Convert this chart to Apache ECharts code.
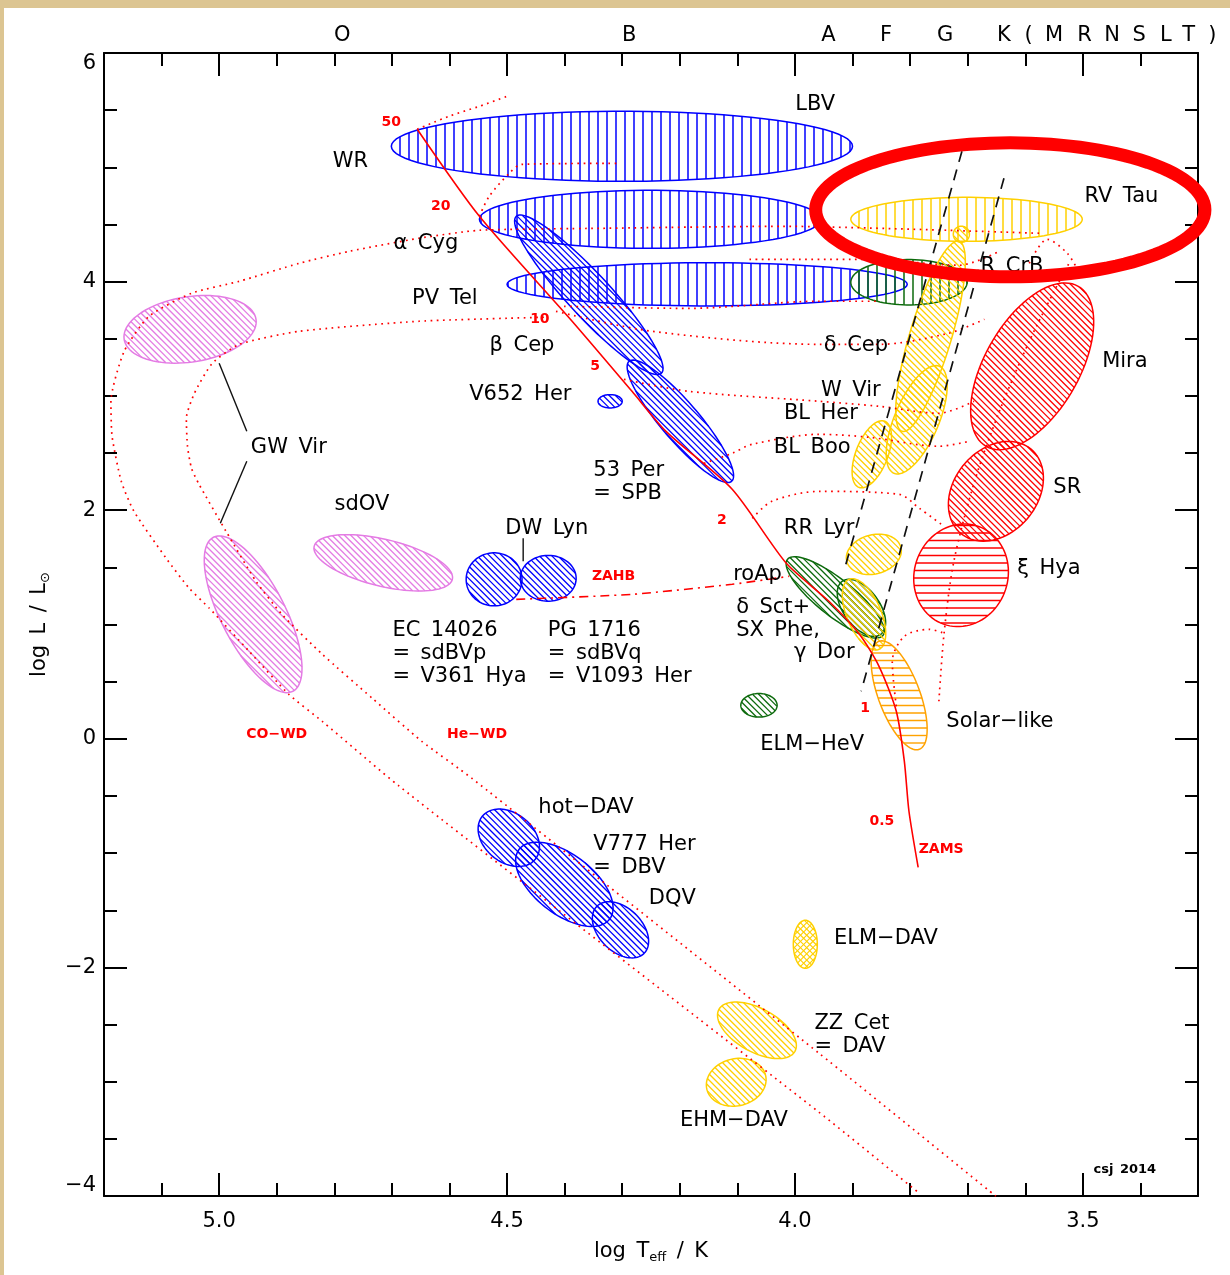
<!DOCTYPE html>
<html>
<head>
<meta charset="utf-8">
<script src="https://cdn.jsdelivr.net/npm/echarts@6/dist/echarts.min.js"></script>
<style>
html, body { margin: 0; padding: 0; background: #dcc592; }
#chart { position: absolute; left: 4px; top: 8px; width: 1226px; height: 1267px; background: #ffffff; }
</style>
</head>
<body>
<div id="chart"></div>
<script>
// Pulsating stars in the Hertzsprung-Russell diagram (log Teff vs log L/Lsun)

// ---- axis ticks ----
const xMajorTicks = [3.5, 4.0, 4.5, 5.0];
const xMinorTicks = [3.4, 3.6, 3.7, 3.8, 3.9, 4.1, 4.2, 4.3, 4.4, 4.6, 4.7, 4.8, 4.9, 5.1];
const spectralTypes = [
  ['O', 4.786], ['B', 4.288], ['A', 3.942], ['F', 3.842], ['G', 3.739], ['K', 3.637],
  ['(', 3.594], ['M', 3.550], ['R', 3.497], ['N', 3.449], ['S', 3.402], ['L', 3.356], ['T', 3.316], [')', 3.275]
];

// ---- instability regions: major axis from -> to (logTeff, logL) and minor/major ratio ----
const regionNames = ['LBV', 'α Cyg', 'PV Tel', 'β Cep', 'SPB', 'V652 Her', 'sdBVp', 'sdBVq',
  'GW Vir (PNNV)', 'GW Vir (DOV)', 'sdOV', 'hot-DAV', 'DBV', 'DQV', 'ZZ Cet', 'EHM-DAV', 'ELM-DAV',
  'ELM-HeV', 'δ Sct', 'γ Dor', 'hybrid', 'RV Tau', 'δ Cep', 'W Vir', 'BL Her', 'RR Lyr', 'HADS',
  'Solar-like', 'Mira', 'SR', 'ξ Hya', 'Ceph'];
const regionFrom = [[4.701, 5.184], [4.548, 4.545], [4.500, 3.976], [4.484, 4.571], [4.288, 3.303], [4.342, 2.953],
  [4.571, 1.395], [4.477, 1.404], [5.165, 3.495], [5.010, 1.763], [4.835, 1.684], [4.543, -0.678], [4.479, -0.967],
  [4.344, -1.465], [4.132, -2.367], [4.153, -3.066], [3.982, -1.588], [4.094, 0.293], [4.013, 1.570], [3.918, 1.378],
  [3.903, 3.994], [3.903, 4.545], [3.715, 4.353], [3.749, 3.259], [3.844, 2.778], [3.910, 1.553], [3.906, 1.395],
  [3.854, 0.853], [3.668, 2.559], [3.712, 1.797], [3.742, 1.003], [3.725, 4.414]];
const regionTo = [[3.900, 5.184], [3.955, 4.545], [3.805, 3.976], [4.232, 3.198], [4.110, 2.253], [4.300, 2.953],
  [4.474, 1.395], [4.380, 1.404], [4.936, 3.670], [4.872, 0.416], [4.595, 1.395], [4.451, -1.054], [4.322, -1.579],
  [4.262, -1.877], [4.000, -2.734], [4.051, -2.944], [3.982, -2.008], [4.031, 0.293], [3.847, 0.905], [3.851, 0.914],
  [3.701, 3.994], [3.501, 4.545], [3.814, 2.690], [3.828, 2.323], [3.889, 2.200], [3.816, 1.675], [3.854, 0.783],
  [3.784, -0.092], [3.508, 3.959], [3.590, 2.534], [3.681, 1.858], [3.697, 4.414]];
const regionRatio = [0.152, 0.17, 0.108, 0.2, 0.24, 0.55, 0.95, 0.82, 0.49, 0.37, 0.33, 0.72, 0.52, 0.65, 0.5, 0.78,
  0.5, 0.65, 0.3, 0.55, 0.39, 0.19, 0.21, 0.38, 0.45, 0.7, 0.45, 0.36, 0.51, 0.76, 0.9, 1.0];

// ---- zero-age main sequence and evolutionary tracks ----
const zams = [[4.656, 5.333], [4.548, 4.571], [4.387, 3.653], [4.283, 3.040], [4.224, 2.690], [4.109, 2.183],
  [4.015, 1.535], [3.941, 1.203], [3.888, 0.914], [3.854, 0.634], [3.824, 0.241], [3.810, -0.197], [3.802, -0.634], [3.786, -1.124]];
const zahb = [[4.484, 1.220], [4.283, 1.264], [4.109, 1.352], [4.010, 1.422]];
const coWdTrack = [[3.576, 4.423], [4.022, 4.484], [4.340, 4.466], [4.548, 4.449], [4.653, 4.379], [4.774, 4.265],
  [4.861, 4.160], [4.965, 4.003], [5.048, 3.898], [5.122, 3.696], [5.165, 3.390], [5.188, 2.953], [5.186, 2.647],
  [5.170, 2.253], [5.148, 1.990], [5.092, 1.579], [5.052, 1.317], [5.017, 1.142], [4.948, 0.766], [4.879, 0.389],
  [4.821, 0.153], [4.687, -0.416], [3.958, -3.268], [3.784, -3.976]];
const heWdTrack = [[4.436, 3.688], [4.653, 3.653], [4.861, 3.565], [4.965, 3.451], [5.012, 3.285], [5.043, 3.023],
  [5.057, 2.804], [5.055, 2.559], [5.048, 2.367], [5.035, 2.227], [4.988, 1.815], [4.936, 1.378], [4.891, 1.089],
  [4.821, 0.740], [4.734, 0.354], [4.648, -0.022], [4.561, -0.346], [3.958, -2.752], [3.651, -4.002]];
const track50 = [[4.656, 5.333], [4.601, 5.446], [4.548, 5.534], [4.500, 5.621]];
const track20 = [[4.548, 4.571], [4.531, 4.746], [4.496, 4.948], [4.474, 5.026], [4.310, 5.035]];
const track15 = [[4.079, 4.195], [3.871, 4.195], [3.715, 4.143], [3.645, 4.265]];
const track12 = [[4.401, 3.784], [4.184, 3.766], [3.958, 3.828], [3.854, 3.828]];
const track10 = [[4.415, 3.740], [4.248, 3.565], [3.958, 3.451], [3.854, 3.451], [3.733, 3.548], [3.671, 3.670]];
const track5 = [[4.297, 3.145], [4.184, 3.040], [3.958, 2.953], [3.854, 2.909], [3.750, 2.848], [3.689, 2.953]];
const track3 = [[4.158, 2.410], [4.109, 2.498], [4.074, 2.577], [3.958, 2.664], [3.871, 2.638], [3.750, 2.559], [3.697, 2.603]];
const track2 = [[4.074, 1.929], [4.040, 2.078], [3.958, 2.165], [3.819, 2.139], [3.784, 2.017], [3.741, 1.859]];
const track1 = [[3.824, 0.284], [3.831, 0.678], [3.810, 0.897], [3.767, 0.958], [3.741, 0.923]];
const giantBranch = [[3.750, 0.328], [3.741, 0.923], [3.724, 1.553], [3.688, 2.253], [3.645, 2.865], [3.593, 3.478], [3.550, 3.915], [3.524, 4.160]];
const rcrbLoop = [[3.593, 4.160], [3.562, 4.370], [3.527, 4.248], [3.506, 4.073]];

// ---- classical instability strip edges ----
const stripBlueEdge = [[3.710, 5.140], [3.915, 1.465]];
const stripRedEdge = [[3.637, 4.904], [3.885, 0.416]];

// ---- label leader lines ----
const leaderLines = [
  [[5.000, 3.285], [4.952, 2.690]],
  [[4.952, 2.428], [4.998, 1.885]],
  [[4.472, 1.754], [4.472, 1.553]]
];

// ---- class labels (centre) ----
const classLabels = [
  [3.965, 5.551, 'LBV'], [4.772, 5.052, 'WR'], [3.433, 4.746, 'RV Tau'], [4.641, 4.335, 'α Cyg'],
  [3.623, 4.134, 'R CrB'], [4.608, 3.854, 'PV Tel'], [4.474, 3.442, 'β Cep'], [3.894, 3.442, 'δ Cep'],
  [3.427, 3.302, 'Mira'], [4.477, 3.014, 'V652 Her'], [3.903, 3.049, 'W Vir'], [3.955, 2.848, 'BL Her'],
  [3.970, 2.550, 'BL Boo'], [4.879, 2.550, 'GW Vir'], [3.527, 2.200, 'SR'], [4.752, 2.052, 'sdOV'],
  [4.431, 1.842, 'DW Lyn'], [3.958, 1.842, 'RR Lyr'], [3.559, 1.492, 'ξ Hya'], [4.065, 1.439, 'roAp'],
  [3.949, 0.757, 'γ Dor'], [3.644, 0.153, 'Solar−like'], [3.970, -0.048, 'ELM−HeV'], [4.363, -0.599, 'hot−DAV'],
  [4.213, -1.396, 'DQV'], [3.842, -1.745, 'ELM−DAV'], [4.106, -3.338, 'EHM−DAV']
];
// ---- multi-line class labels (left edge) ----
const blockLabels = [
  [4.700, 0.748, 'EC 14026\n= sdBVp\n= V361 Hya'],
  [4.430, 0.748, 'PG 1716\n= sdBVq\n= V1093 Her'],
  [4.351, 2.248, '53 Per\n= SPB'],
  [4.351, -1.024, 'V777 Her\n= DBV'],
  [3.967, -2.590, 'ZZ Cet\n= DAV'],
  [4.103, 1.050, 'δ Sct+\nSX Phe,']
];
// ---- stellar masses on the ZAMS and track names ----
const redLabels = [
  [4.701, 5.394, '50'], [4.615, 4.659, '20'], [4.443, 3.670, '10'], [4.347, 3.259, '5'], [4.127, 1.911, '2'],
  [3.878, 0.267, '1'], [3.849, -0.722, '0.5'], [3.746, -0.967, 'ZAMS'], [4.315, 1.422, 'ZAHB'],
  [4.900, 0.039, 'CO−WD'], [4.552, 0.039, 'He−WD']
];
const creditLabel = [[3.427, -3.766, 'csj 2014']];

// ---- highlight ring around RV Tau: centre and half-spans ----
const ringCenter = [3.626, 4.628];
const ringHalfSpan = [0.338, 0.586];

// ================= drawing =================
const FONT = "'DejaVu Sans', 'Liberation Sans', sans-serif";
const INK = '#000000';
const PALETTE = { blue: '#0000ff', pink: '#e47be4', yellow: '#ffd000', orange: '#ffa200', green: '#0c6a0c', red: '#ff0000' };
const regionLook = {
  'LBV': ['blue', 'v'], 'α Cyg': ['blue', 'v'], 'PV Tel': ['blue', 'v'], 'β Cep': ['blue', 'd'], 'SPB': ['blue', 'd'],
  'V652 Her': ['blue', 'd'], 'sdBVp': ['blue', 'd'], 'sdBVq': ['blue', 'd'], 'GW Vir (PNNV)': ['pink', 'd'],
  'GW Vir (DOV)': ['pink', 'd'], 'sdOV': ['pink', 'd'], 'hot-DAV': ['blue', 'd'], 'DBV': ['blue', 'd'], 'DQV': ['blue', 'd'],
  'ZZ Cet': ['yellow', 'd'], 'EHM-DAV': ['yellow', 'd'], 'ELM-DAV': ['yellow', 'x'], 'ELM-HeV': ['green', 'd'],
  'δ Sct': ['green', 'd'], 'γ Dor': ['green', 'd'], 'hybrid': ['green', 'v'], 'RV Tau': ['yellow', 'v'],
  'δ Cep': ['yellow', 'd'], 'W Vir': ['yellow', 'd'], 'BL Her': ['yellow', 'd'], 'RR Lyr': ['yellow', 'd'],
  'HADS': ['yellow', 'd'], 'Solar-like': ['orange', 'h'], 'Mira': ['red', 'd'], 'SR': ['red', 'd'],
  'ξ Hya': ['red', 'h'], 'Ceph': ['yellow', 'd']
};
const HATCH = {
  v: [{ angle: 90, gap: 9, width: 1.5 }],
  h: [{ angle: 0, gap: 7.5, width: 1.4 }],
  d: [{ angle: 45, gap: 4.4, width: 1.3 }],
  x: [{ angle: 45, gap: 4.4, width: 1.1 }, { angle: -45, gap: 4.4, width: 1.1 }]
};

// hatch line segments clipped to a rotated ellipse (pixel space)
function hatchSegments(cx, cy, a, b, th, angleDeg, gap) {
  const phi = angleDeg * Math.PI / 180;
  const d = [Math.cos(phi), Math.sin(phi)];
  const n = [-d[1], d[0]];
  const u = [Math.cos(th), Math.sin(th)];
  const v = [-Math.sin(th), Math.cos(th)];
  const dl = [d[0] * u[0] + d[1] * u[1], d[0] * v[0] + d[1] * v[1]];
  const nl = [n[0] * u[0] + n[1] * u[1], n[0] * v[0] + n[1] * v[1]];
  const h = Math.sqrt((a * nl[0]) ** 2 + (b * nl[1]) ** 2);
  const base = n[0] * cx + n[1] * cy;
  const segs = [];
  const A = dl[0] * dl[0] / (a * a) + dl[1] * dl[1] / (b * b);
  for (let k = Math.ceil((base - h) / gap); k <= Math.floor((base + h) / gap); k++) {
    const o = k * gap - base;
    const q0 = [o * nl[0], o * nl[1]];
    const B = 2 * (q0[0] * dl[0] / (a * a) + q0[1] * dl[1] / (b * b));
    const C = q0[0] * q0[0] / (a * a) + q0[1] * q0[1] / (b * b) - 1;
    const disc = B * B - 4 * A * C;
    if (disc <= 0) continue;
    const sq = Math.sqrt(disc);
    const t1 = (-B - sq) / (2 * A), t2 = (-B + sq) / (2 * A);
    const px = cx + o * n[0], py = cy + o * n[1];
    segs.push([px + t1 * d[0], py + t1 * d[1], px + t2 * d[0], py + t2 * d[1]]);
  }
  return segs;
}

function renderRegion(params, api) {
  const i = api.value(5);
  const p1 = api.coord([api.value(0), api.value(1)]);
  const p2 = api.coord([api.value(2), api.value(3)]);
  const cx = (p1[0] + p2[0]) / 2, cy = (p1[1] + p2[1]) / 2;
  const dx = p2[0] - p1[0], dy = p2[1] - p1[1];
  const a = Math.max(Math.hypot(dx, dy) / 2, 1);
  const b = a * api.value(4);
  const th = Math.atan2(dy, dx);
  const look = regionLook[regionNames[i]];
  const color = PALETTE[look[0]];
  const children = [];
  HATCH[look[1]].forEach(function (hs) {
    hatchSegments(cx, cy, a, b, th, hs.angle, hs.gap).forEach(function (s) {
      children.push({ type: 'line', shape: { x1: s[0], y1: s[1], x2: s[2], y2: s[3] }, style: { stroke: color, lineWidth: hs.width } });
    });
  });
  const pts = [];
  for (let k = 0; k < 90; k++) {
    const t = k / 90 * 2 * Math.PI;
    pts.push([cx + a * Math.cos(t) * Math.cos(th) - b * Math.sin(t) * Math.sin(th),
              cy + a * Math.cos(t) * Math.sin(th) + b * Math.sin(t) * Math.cos(th)]);
  }
  children.push({ type: 'polygon', shape: { points: pts }, style: { fill: 'none', stroke: color, lineWidth: 1.5 } });
  return { type: 'group', children: children };
}

function renderRing(params, api) {
  const c = api.coord([api.value(0), api.value(1)]);
  const s = api.size([api.value(2), api.value(3)]);
  const pts = [];
  for (let k = 0; k < 120; k++) {
    const t = k / 120 * 2 * Math.PI;
    pts.push([c[0] + s[0] * Math.cos(t), c[1] + s[1] * Math.sin(t)]);
  }
  return { type: 'polygon', shape: { points: pts }, style: { fill: 'none', stroke: '#ff0000', lineWidth: 13 } };
}

const wide = s => s.replace(/ /g, '\u2002');
const toItems = arr => arr.map(l => ({ value: [l[0], l[1]], name: l[2] }));

function textSeries(items, label) {
  return {
    type: 'scatter', data: items, symbolSize: 1, itemStyle: { color: 'rgba(0,0,0,0)', opacity: 1 },
    silent: true, clip: false, z: 6, animation: false,
    label: Object.assign({ show: true, position: 'inside', formatter: p => wide(p.name), color: INK, fontSize: 21, fontFamily: FONT }, label)
  };
}

function trackSeries(data, style, smooth) {
  return {
    type: 'line', data: data, showSymbol: false, symbol: 'none', silent: true, clip: true, z: 3,
    smooth: smooth === undefined ? 0.3 : smooth, animation: false,
    lineStyle: Object.assign({ color: '#ff0000', width: 1.7, type: [1.7, 4.5] }, style)
  };
}

function xAxisOf(pos, ticks, len, extra) {
  return Object.assign({
    type: 'value', position: pos, min: 3.3, max: 5.2, inverse: true,
    splitLine: { show: false }, axisLine: { show: false, onZero: false },
    axisLabel: { show: false },
    axisTick: { show: true, inside: true, length: len, customValues: ticks, lineStyle: { color: '#000', width: 2 } }
  }, extra || {});
}

function yAxisOf(pos, extra) {
  return Object.assign({
    type: 'value', position: pos, min: -4, max: 6, interval: 2,
    splitLine: { show: false },
    axisLine: { show: true, onZero: false, lineStyle: { color: '#000', width: 2 } },
    axisTick: { show: true, inside: true, length: 23, lineStyle: { color: '#000', width: 2 } },
    minorTick: { show: true, splitNumber: 4, length: 13, lineStyle: { color: '#000', width: 2 } },
    axisLabel: { show: false }
  }, extra || {});
}

const chart = echarts.init(document.getElementById('chart'), null, { renderer: 'canvas' });

const option = {
  animation: false,
  backgroundColor: '#ffffff',
  grid: { left: 100, right: 32, top: 45, bottom: 79, containLabel: false, outerBoundsMode: 'none' },
  xAxis: [
    xAxisOf('bottom', xMajorTicks, 23, {
      axisLine: { show: true, onZero: false, lineStyle: { color: '#000', width: 2 } },
      axisLabel: { show: true, customValues: xMajorTicks, formatter: v => v.toFixed(1), margin: 15, color: INK, fontSize: 21, fontFamily: FONT },
      name: 'log\u2002T{s|eff}\u2002/\u2002K', nameLocation: 'middle', nameGap: 45,
      nameTextStyle: { color: INK, fontSize: 21, fontFamily: FONT, rich: { s: { fontSize: 13, fontFamily: FONT, color: INK, lineHeight: 13, padding: [12, 0, 0, 0] } } }
    }),
    xAxisOf('bottom', xMinorTicks, 13),
    xAxisOf('top', xMajorTicks, 23, { axisLine: { show: true, onZero: false, lineStyle: { color: '#000', width: 2 } } }),
    xAxisOf('top', xMinorTicks, 13)
  ],
  yAxis: [
    yAxisOf('left', {
      axisLabel: {
        show: true, margin: 8, color: INK, fontSize: 21, fontFamily: FONT,
        formatter: v => (v < 0 ? '\u2212' + Math.abs(v) : String(v)),
        verticalAlignMaxLabel: 'top', verticalAlignMinLabel: 'bottom'
      },
      name: 'log\u2002L\u2002/\u2002L{s|\u2299}', nameLocation: 'middle', nameGap: 54, nameRotate: 90,
      nameTextStyle: { color: INK, fontSize: 21, fontFamily: FONT, rich: { s: { fontSize: 13, fontFamily: FONT, color: INK, lineHeight: 13, padding: [12, 0, 0, 0] } } }
    }),
    yAxisOf('right')
  ],
  series: [
    {
      type: 'custom', renderItem: renderRegion, silent: true, clip: true, z: 2, animation: false,
      encode: { x: [0, 2], y: [1, 3] },
      data: regionFrom.map((f, i) => [f[0], f[1], regionTo[i][0], regionTo[i][1], regionRatio[i], i])
    },
    trackSeries(coWdTrack, {}, 0.2),
    trackSeries(heWdTrack, {}, 0.2),
    trackSeries(track50),
    trackSeries(track20),
    trackSeries(track15),
    trackSeries(track12),
    trackSeries(track10),
    trackSeries(track5),
    trackSeries(track3),
    trackSeries(track2),
    trackSeries(track1),
    trackSeries(giantBranch),
    trackSeries(rcrbLoop),
    trackSeries(zahb, { type: [9, 5, 2, 5], width: 1.6 }, 0.2),
    trackSeries(zams, { type: 'solid', width: 1.6 }, 0.25),
    trackSeries(stripBlueEdge, { type: [11, 8], color: '#111', width: 1.7 }, 0),
    trackSeries(stripRedEdge, { type: [11, 8], color: '#111', width: 1.7 }, 0),
    ...leaderLines.map(seg => trackSeries(seg, { type: 'solid', color: '#111', width: 1.4 }, 0)),
    textSeries(toItems(classLabels), {}),
    textSeries(toItems(blockLabels), { position: 'right', distance: 0, align: 'left', lineHeight: 23 }),
    textSeries(toItems(redLabels), { color: '#ff0000', fontSize: 14, fontWeight: 'bold' }),
    textSeries(toItems(creditLabel), { fontSize: 13, fontWeight: 'bold' }),
    textSeries(spectralTypes.map(s => ({ value: [s[1], 6], name: s[0] })), { position: 'top', distance: 6 }),
    {
      type: 'custom', renderItem: renderRing, silent: true, clip: false, z: 10, animation: false,
      data: [[ringCenter[0], ringCenter[1], ringHalfSpan[0], ringHalfSpan[1]]]
    }
  ]
};

chart.setOption(option);
</script>
</body>
</html>
